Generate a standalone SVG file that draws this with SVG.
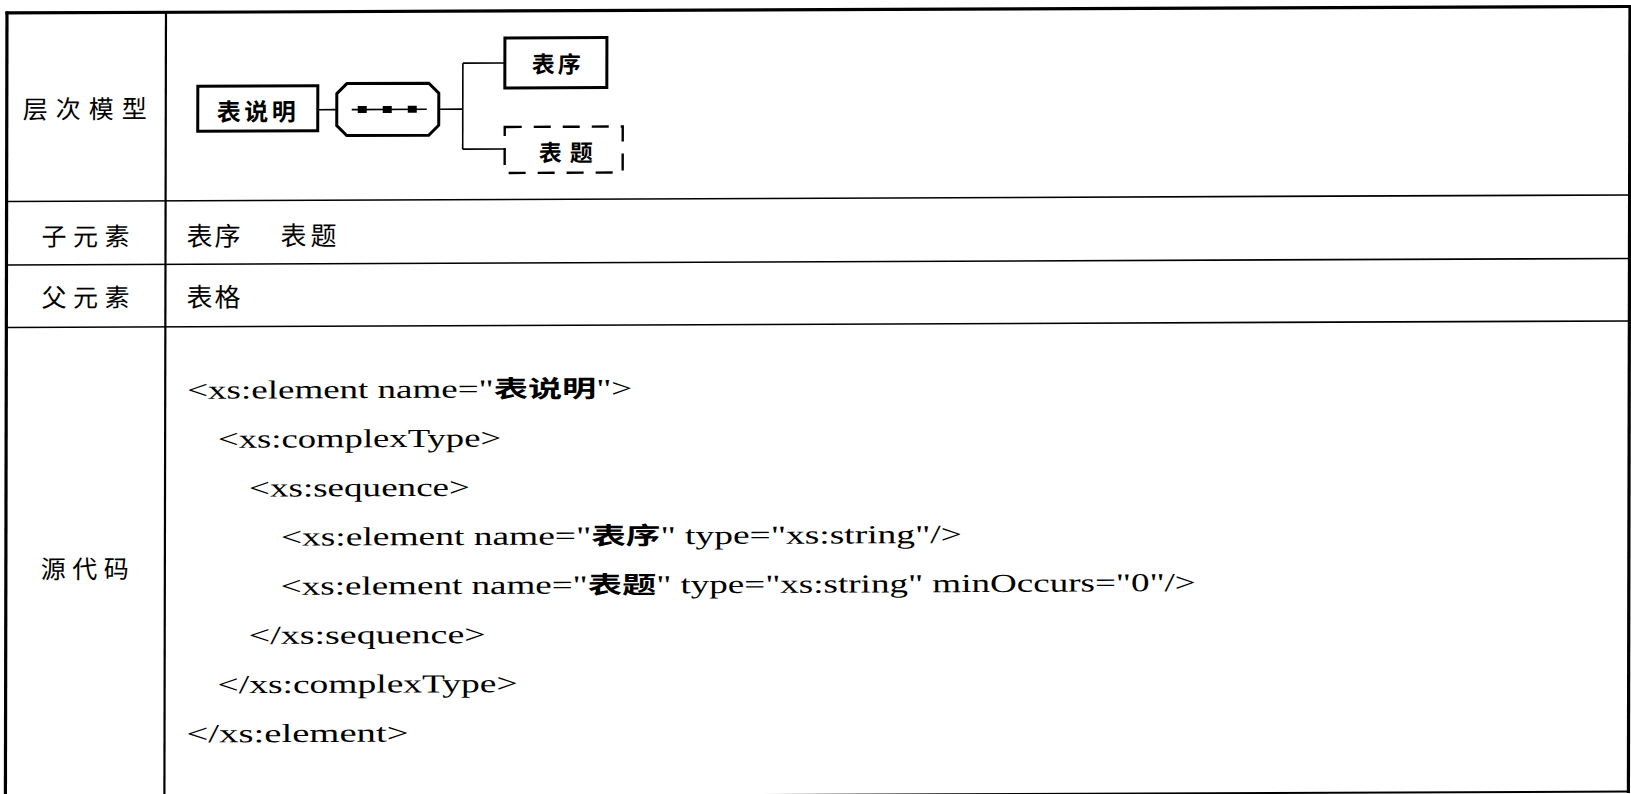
<svg xmlns="http://www.w3.org/2000/svg" width="1631" height="794" viewBox="0 0 1631 794">
<style>
.bg{fill:#fff}
.frame{stroke:#000;stroke-width:3.2;fill:none;stroke-linecap:square}
.rule{stroke:#000;stroke-width:1.6;fill:none}
.box{fill:#fff;stroke:#000;stroke-width:3}
.dbox{fill:#fff;stroke:#000;stroke-width:2.4;stroke-dasharray:17 12}
.conn{stroke:#000;stroke-width:1.6;fill:none}
.lab{font-family:"Noto Sans CJK SC",sans-serif;font-size:25px;fill:#000;dominant-baseline:central}
.cell{font-family:"Noto Sans CJK SC",sans-serif;font-size:26px;fill:#000;dominant-baseline:central}
.nl{font-family:"Noto Sans CJK SC",sans-serif;font-size:23px;font-weight:700;fill:#000;dominant-baseline:central}
.code{font-family:"Liberation Serif","Noto Sans CJK SC",serif;font-size:26px;fill:#000}
.cj{font-family:"Noto Sans CJK SC",sans-serif;font-weight:700;font-size:24px}
</style>
<rect class="bg" x="0" y="0" width="1631" height="794"/>
<g transform="matrix(1,-0.004,-0.002,1,0,0)">
  <g id="table">
    <line class="frame" x1="7" y1="13" x2="1630" y2="13"/>
    <line class="frame" x1="7" y1="13" x2="7" y2="800"/>
    <line class="frame" x1="1630" y1="13" x2="1630" y2="798"/>
    <line class="rule" x1="7" y1="798" x2="1630" y2="798" style="stroke-width:2"/>
    <line class="rule" x1="166" y1="13" x2="166" y2="800" style="stroke-width:2.2"/>
    <line class="rule" x1="7" y1="201.5" x2="1630" y2="201.5"/>
    <line class="rule" x1="7" y1="265" x2="1630" y2="265"/>
    <line class="rule" x1="7" y1="327.5" x2="1630" y2="327.5"/>
  </g>
  <g id="labels">
    <text class="lab" x="23 56 89 122" y="107.5">层次模型</text>
    <text class="lab" x="42 73.5 105" y="235">子元素</text>
    <text class="lab" x="42 73.5 105" y="296">父元素</text>
    <text class="lab" x="42 73.5 105" y="567.5">源代码</text>
    <text class="cell" x="187 215 250 281 311" y="235">表序　表题</text>
    <text class="cell" x="187 215" y="296">表格</text>
  </g>
  <g id="connectors">
    <line class="conn" x1="318" y1="111" x2="337" y2="111"/>
    <line class="conn" x1="439" y1="111" x2="463" y2="111"/>
    <line class="conn" x1="463" y1="65" x2="463" y2="151"/>
    <line class="conn" x1="463" y1="65" x2="505" y2="65"/>
    <line class="conn" x1="463" y1="151" x2="505" y2="151"/>
  </g>
  <g id="node-biaoshuoming">
    <rect class="box" x="198" y="87" width="120" height="45"/>
    <text class="nl" x="217" y="111" textLength="79" lengthAdjust="spacing" style="font-size:24px">表说明</text>
  </g>
  <g id="node-sequence">
    <polygon class="box" points="347,85 429,85 439,95 439,127 429,137 347,137 337,127 337,95"/>
    <line class="conn" x1="352" y1="111" x2="427" y2="111"/>
    <rect x="358" y="107.5" width="9" height="7" fill="#000"/>
    <rect x="383" y="107.5" width="9" height="7" fill="#000"/>
    <rect x="408" y="107.5" width="9" height="7" fill="#000"/>
  </g>
  <g id="node-biaoxu">
    <rect class="box" x="505" y="40" width="102" height="50"/>
    <text class="nl" x="532" y="65" textLength="49" lengthAdjust="spacing">表序</text>
  </g>
  <g id="node-biaoti">
    <rect class="dbox" x="505" y="129" width="118" height="46"/>
    <text class="nl" x="539" y="153.5" textLength="54" lengthAdjust="spacing">表题</text>
  </g>
  <g id="code">
    <text class="code" x="188" y="399.5" textLength="445" lengthAdjust="spacingAndGlyphs">&lt;xs:element name="<tspan class="cj">表说明</tspan>"&gt;</text>
    <text class="code" x="219" y="448.6" textLength="283" lengthAdjust="spacingAndGlyphs">&lt;xs:complexType&gt;</text>
    <text class="code" x="250" y="497.7" textLength="221" lengthAdjust="spacingAndGlyphs">&lt;xs:sequence&gt;</text>
    <text class="code" x="282" y="546.8" textLength="681" lengthAdjust="spacingAndGlyphs">&lt;xs:element name="<tspan class="cj">表序</tspan>" type="xs:string"/&gt;</text>
    <text class="code" x="282" y="595.9" textLength="915" lengthAdjust="spacingAndGlyphs">&lt;xs:element name="<tspan class="cj">表题</tspan>" type="xs:string" minOccurs="0"/&gt;</text>
    <text class="code" x="250" y="645" textLength="237" lengthAdjust="spacingAndGlyphs">&lt;/xs:sequence&gt;</text>
    <text class="code" x="219" y="694.1" textLength="300" lengthAdjust="spacingAndGlyphs">&lt;/xs:complexType&gt;</text>
    <text class="code" x="188" y="743.2" textLength="222" lengthAdjust="spacingAndGlyphs">&lt;/xs:element&gt;</text>
  </g>
</g>
</svg>
